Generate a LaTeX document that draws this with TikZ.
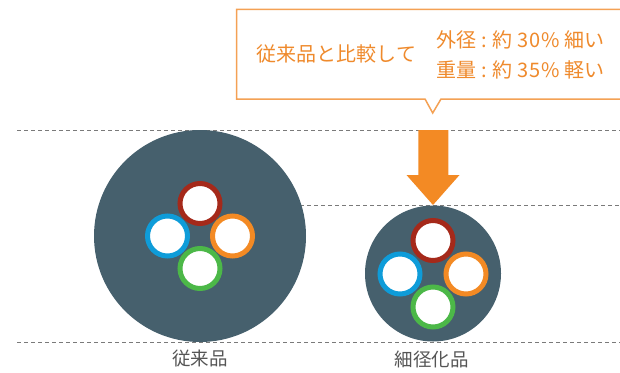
\documentclass[tikz,border=0pt]{standalone}
\usepackage{fontspec}
\newfontfamily\cjk{Noto Sans CJK JP}
\definecolor{cable}{HTML}{46606D}
\definecolor{cred}{HTML}{A5291A}
\definecolor{cblue}{HTML}{0E9CD9}
\definecolor{corange}{HTML}{F38A24}
\definecolor{cgreen}{HTML}{4CB848}
\definecolor{boxline}{HTML}{F4A154}
\definecolor{boxtext}{HTML}{EF8A2C}
\definecolor{dashc}{HTML}{7A7A7A}
\definecolor{labc}{HTML}{555555}
\tikzset{
  guide/.style={draw=dashc, line width=1pt, dash pattern=on 4pt off 3pt},
  sheath/.style={circle, fill=cable, inner sep=0pt},
  core/.style={circle, fill=white, draw=#1, line width=5pt, minimum size=40pt, inner sep=0pt},
  caplabel/.style={font=\cjk\fontsize{18.5pt}{20pt}\selectfont, text=labc, inner sep=0pt},
  calltext/.style={font=\cjk\fontsize{20pt}{30pt}\selectfont, text=boxtext, inner sep=0pt}
}
\newcommand{\dg}[1]{#1\hspace{1.2pt}}
\begin{document}
\begin{tikzpicture}[x=1pt, y=-1pt]
\useasboundingbox (0,0) rectangle (620,372);
% guides
\draw[guide] (17,130) -- (620,130);
\draw[guide] (300,205) -- (620,205);
\draw[guide] (17,342) -- (620,342);
% conventional cable
\node[sheath, minimum size=212pt] (big) at (200,236) {};
\node[core=cred] (b1) at (200,203.5) {};
\node[core=cblue] (b2) at (167.5,236) {};
\node[core=corange] (b3) at (232.5,236) {};
\node[core=cgreen] (b4) at (200,268.5) {};
\node[caplabel] (lbig) at (200,359) {従来品};
% thin cable
\node[sheath, minimum size=136pt] (small) at (433,273.5) {};
\node[core=cred] (s1) at (433,240.5) {};
\node[core=cblue] (s2) at (400,274) {};
\node[core=corange] (s3) at (466,274) {};
\node[core=cgreen] (s4) at (433,307) {};
\node[caplabel] (lsmall) at (431.5,359) {細径化品};
% arrow
\coordinate (atop) at (433,130);
\coordinate (atip) at (433,205);
\fill[corange] (418.3,130) -- (448.3,130) -- (448.3,175) -- (459.5,175) -- (atip) -- (406.5,175) -- (418.3,175) -- cycle;
% callout
\draw[boxline, line width=1.5pt, fill=white] (621,9.3) -- (236.7,9.3) -- (236.7,99) -- (425,99) -- (432.7,113) -- (441,99) -- (621,99);
\node[calltext, anchor=west] (c1) at (256.5,53.5) {従来品と比較して};
\node[calltext, anchor=west] (c2) at (436.5,40) {外径 : 約 \dg{3}\dg{0}\%\ 細い};
\node[calltext, anchor=west] (c3) at (436.5,70) {重量 : 約 \dg{3}\dg{5}\%\ 軽い};
\end{tikzpicture}
\end{document}
